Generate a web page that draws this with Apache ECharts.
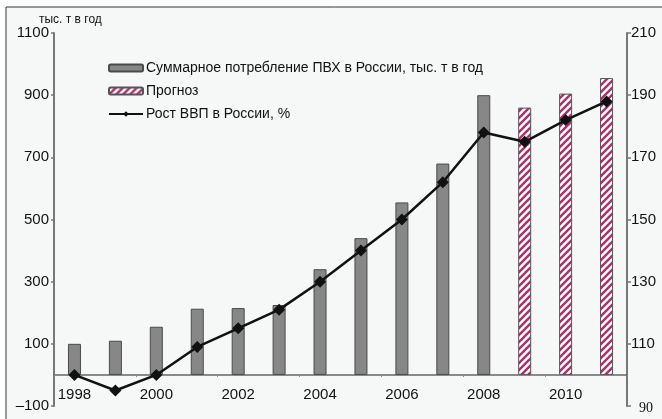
<!DOCTYPE html>
<html>
<head>
<meta charset="utf-8">
<script src="https://cdn.jsdelivr.net/npm/echarts@6/dist/echarts.min.js"></script>
<style>
  html, body { margin: 0; padding: 0; background: #fff; }
  #chart { width: 662px; height: 419px; }
</style>
</head>
<body>
<div id="chart"></div>
<script>
// годы
const years = ['1998', '1999', '2000', '2001', '2002', '2003', '2004', '2005', '2006', '2007', '2008', '2009', '2010', '2011'];
// потребление ПВХ, тыс. т (факт)
const pvcActual = [100, 110, 155, 213, 215, 225, 340, 440, 555, 680, 900, null, null, null];
// прогноз
const pvcForecast = [null, null, null, null, null, null, null, null, null, null, null, 860, 905, 955];
// рост ВВП, % (1998 = 100)
const gdp = [100, 95, 100, 109, 115, 121, 130, 140, 150, 162, 178, 175, 182, 188];

const leftTicks = { min: -100, max: 1100, step: 200 };
const rightTicks = { min: 90, max: 210, step: 20 };

const FONT = 'Liberation Sans, Arial, sans-serif';

// штриховка для прогноза
function stripePattern() {
  const s = 7;
  const c = document.createElement('canvas');
  c.width = s; c.height = s;
  const g = c.getContext('2d');
  g.fillStyle = '#ffffff';
  g.fillRect(0, 0, s, s);
  g.strokeStyle = '#a8306c';
  g.lineWidth = 2.4;
  g.beginPath();
  g.moveTo(-s / 2, s / 2); g.lineTo(s / 2, -s / 2);
  g.moveTo(0, s); g.lineTo(s, 0);
  g.moveTo(s / 2, s * 1.5); g.lineTo(s * 1.5, s / 2);
  g.stroke();
  return c;
}

const chart = echarts.init(document.getElementById('chart'));

const option = {
  animation: false,
  backgroundColor: '#ffffff',
  textStyle: { fontFamily: FONT },
  graphic: [{
    type: 'rect',
    z: -10,
    shape: { x: 6, y: 7, width: 700, height: 430 },
    style: { fill: '#f6f8f8', stroke: '#333', lineWidth: 1 }
  }],
  legend: {
    orient: 'vertical',
    left: 103,
    top: 56,
    itemWidth: 34,
    itemHeight: 7,
    itemGap: 9,
    textStyle: { fontSize: 14, color: '#111', fontFamily: FONT, padding: [0, 0, 0, -2] },
    data: ['Суммарное потребление ПВХ в России, тыс. т в год', 'Прогноз', 'Рост ВВП в России, %']
  },
  grid: { left: 54, right: 35, top: 33, bottom: 13, containLabel: false, outerBoundsMode: 'none' },
  xAxis: {
    type: 'category',
    data: years,
    boundaryGap: true,
    axisLine: { onZero: true, onZeroAxisIndex: 0, lineStyle: { color: '#666', width: 1.5 } },
    axisTick: { show: true, length: 2, lineStyle: { color: '#888' } },
    axisLabel: { interval: 1, margin: -19, fontSize: 15, color: '#111', fontFamily: FONT }
  },
  yAxis: [{
    type: 'value',
    min: leftTicks.min,
    max: leftTicks.max,
    interval: leftTicks.step,
    name: 'тыс. т в год',
    nameLocation: 'end',
    nameGap: 5,
    nameTextStyle: { fontSize: 12, color: '#111', align: 'left', padding: [0, 0, 0, -15], fontFamily: FONT },
    axisLine: { show: true, lineStyle: { color: '#777', width: 2 } },
    axisTick: { show: true, length: 3, lineStyle: { color: '#777', width: 1.5 } },
    axisLabel: {
      fontSize: 15, color: '#111', margin: 5, fontFamily: FONT,
      formatter: v => String(v).replace('-', '\u2013')
    },
    splitLine: { show: false }
  }, {
    type: 'value',
    min: rightTicks.min,
    max: rightTicks.max,
    interval: rightTicks.step,
    position: 'right',
    axisLine: { show: true, lineStyle: { color: '#777', width: 2 } },
    axisTick: { show: true, length: 4, lineStyle: { color: '#777', width: 1.5 } },
    axisLabel: {
      fontSize: 15, color: '#111', margin: 4, fontFamily: FONT,
      rich: { serif: { fontFamily: 'Liberation Serif, Times New Roman, serif', fontSize: 14, color: '#111', padding: [4, 0, 0, 8] } },
      formatter: v => v === 90 ? '{serif|90}' : String(v)
    },
    splitLine: { show: false }
  }],
  series: [{
    name: 'Суммарное потребление ПВХ в России, тыс. т в год',
    type: 'bar',
    data: pvcActual,
    barWidth: 13,
    barGap: '-100%',
    itemStyle: { color: '#878787', borderColor: '#4a4a4a', borderWidth: 1 }
  }, {
    name: 'Прогноз',
    type: 'bar',
    data: pvcForecast,
    barWidth: 13,
    barGap: '-100%',
    itemStyle: { color: { image: stripePattern(), repeat: 'repeat' }, borderColor: '#555', borderWidth: 1 }
  }, {
    name: 'Рост ВВП в России, %',
    type: 'line',
    yAxisIndex: 1,
    data: gdp,
    symbol: 'diamond',
    symbolSize: 12,
    lineStyle: { color: '#111', width: 2.5 },
    itemStyle: { color: '#111' },
    z: 5
  }]
};

chart.setOption(option);
</script>
</body>
</html>
